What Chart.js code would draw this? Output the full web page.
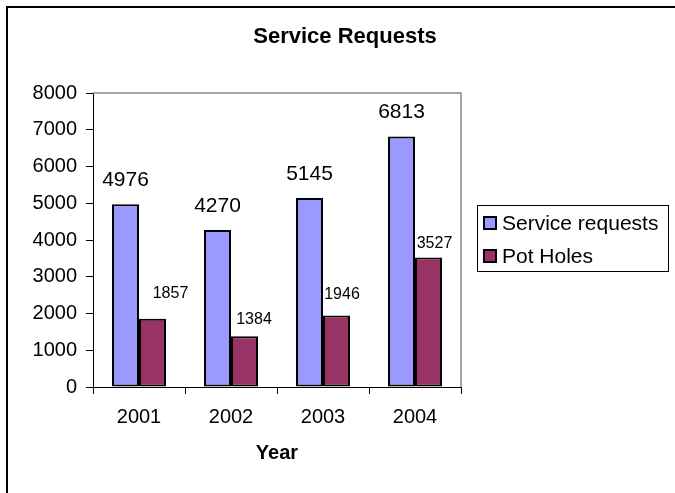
<!DOCTYPE html>
<html>
<head>
<meta charset="utf-8">
<title>Service Requests</title>
<script src="https://cdn.jsdelivr.net/npm/chart.js@4.4.0/dist/chart.umd.min.js"></script>
<style>
    html, body { margin: 0; padding: 0; background: #fff; }
    #wrap { position: relative; width: 675px; height: 493px; overflow: hidden; }
    #frame { position: absolute; left: 6px; top: 6px; right: -10px; bottom: -10px; border-top: 2px solid #000; border-left: 2px solid #000; }
    #mainChart { position: absolute; left: 0; top: 0; }
</style>
</head>
<body>
<div id="wrap">
    <div id="frame"></div>
    <canvas id="mainChart" width="675" height="493"></canvas>
</div>
<script>
const chartTitle = "Service Requests";
const axisTitle = "Year";
const years = ["2001", "2002", "2003", "2004"];
const seriesNames = ["Service requests", "Pot Holes"];
const serviceRequests = [4976, 4270, 5145, 6813];
const potHoles = [1857, 1384, 1946, 3527];
const yMin = 0;
const yMax = 8000;
const yStep = 1000;

const FONT = "'Liberation Sans', Arial, sans-serif";
const colors = ["#9999FF", "#993366"];

// label placement, dragged by hand in the original
const labelStyle = [
    { size: 21, dx: [0, 0, 0, 0], dy: [24, 24, 24, 24] },
    { size: 16, dx: [18, 9.5, 5.5, 6], dy: [25.5, 17, 21, 14] },
];

// gray frame on top and right of the plot area
const plotFrame = {
    id: "plotFrame",
    beforeDatasetsDraw(chart) {
        const { ctx, chartArea: a } = chart;
        ctx.save();
        ctx.strokeStyle = "#888";
        ctx.lineWidth = 1.5;
        ctx.beginPath();
        ctx.moveTo(a.left, a.top);
        ctx.lineTo(a.right, a.top);
        ctx.lineTo(a.right, a.bottom);
        ctx.stroke();
        ctx.restore();
    }
};

// value labels above bars
const barLabels = {
    id: "barLabels",
    afterDatasetsDraw(chart) {
        const ctx = chart.ctx;
        ctx.save();
        ctx.fillStyle = "#000";
        ctx.textAlign = "center";
        ctx.textBaseline = "middle";
        chart.data.datasets.forEach((ds, i) => {
            const st = labelStyle[i];
            ctx.font = st.size + "px " + FONT;
            chart.getDatasetMeta(i).data.forEach((bar, j) => {
                ctx.fillText(String(ds.data[j]), bar.x + st.dx[j], bar.y - st.dy[j]);
            });
        });
        ctx.restore();
    }
};

// title and boxed legend, Excel style
const decorations = {
    id: "decorations",
    afterDraw(chart) {
        const ctx = chart.ctx;
        ctx.save();
        ctx.fillStyle = "#000";
        ctx.textAlign = "center";
        ctx.textBaseline = "middle";
        ctx.font = "bold 22px " + FONT;
        ctx.fillText(chartTitle, 345, 37);

        ctx.strokeStyle = "#000";
        ctx.lineWidth = 1;
        ctx.strokeRect(477.5, 205.5, 191, 66);
        ctx.font = "21px " + FONT;
        ctx.textAlign = "left";
        chart.data.datasets.forEach((ds, i) => {
            const cy = 223 + i * 33;
            ctx.fillStyle = ds.backgroundColor;
            ctx.fillRect(484, cy - 6, 12, 12);
            ctx.lineWidth = 2;
            ctx.strokeRect(484, cy - 6, 12, 12);
            ctx.fillStyle = "#000";
            ctx.fillText(ds.label, 502, cy + 1);
        });
        ctx.restore();
    }
};

const ctx = document.getElementById("mainChart").getContext("2d");
const mainChart = new Chart(ctx, {
    type: "bar",
    data: {
        labels: years,
        datasets: [serviceRequests, potHoles].map((values, i) => ({
            label: seriesNames[i],
            data: values,
            backgroundColor: colors[i],
            borderColor: "#000",
            borderWidth: 2,
            borderSkipped: false,
            categoryPercentage: 0.587,
            barPercentage: 1.0,
        })),
    },
    options: {
        responsive: false,
        animation: false,
        layout: { padding: { left: 10, right: 214, top: 93, bottom: 24 } },
        plugins: {
            legend: { display: false },
            title: { display: false },
            tooltip: { enabled: false },
        },
        scales: {
            x: {
                grid: { offset: true, drawOnChartArea: false, tickLength: 7, color: "#000" },
                border: { color: "#000", width: 1 },
                ticks: { color: "#000", font: { family: FONT, size: 20 }, padding: 11 },
                title: {
                    display: true,
                    text: axisTitle,
                    color: "#000",
                    font: { family: FONT, size: 20, weight: "bold" },
                    padding: { top: 0, bottom: 4 },
                },
                afterFit: scale => { scale.height = 82; },
            },
            y: {
                min: yMin,
                max: yMax,
                ticks: {
                    stepSize: yStep,
                    color: "#000",
                    font: { family: FONT, size: 20 },
                    padding: 9,
                    callback: value => String(value),
                },
                grid: { drawOnChartArea: false, tickLength: 7, color: "#000" },
                border: { color: "#000", width: 1 },
                afterFit: scale => { scale.width = 83; },
            },
        },
    },
    plugins: [plotFrame, barLabels, decorations],
});
</script>
</body>
</html>
